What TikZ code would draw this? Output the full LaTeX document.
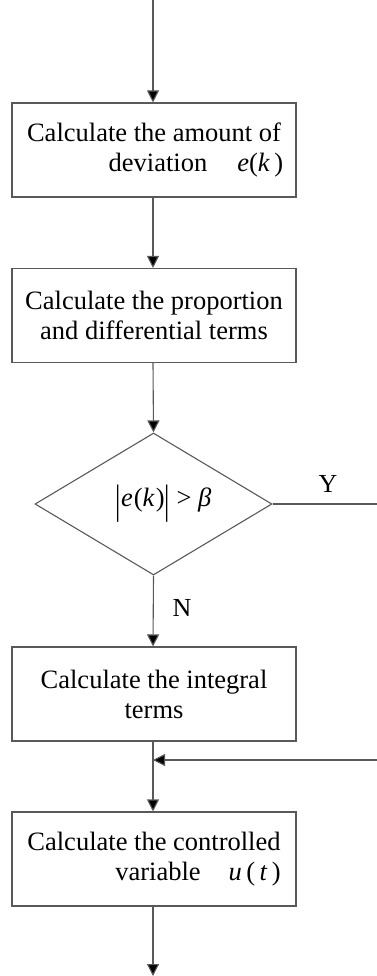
\documentclass[tikz,border=0pt]{standalone}
\usepackage{fontspec}
\usepackage{graphicx}
\setmainfont{Liberation Serif}
\usetikzlibrary{arrows.meta,shapes.geometric}
\newcommand{\tallbar}{\raisebox{-0.28em}{\scalebox{1}[1.55]{|}}}
\begin{document}
\begin{tikzpicture}[x=1pt,y=-1pt,
  line/.style={draw=black!65,line width=1.1pt},
  arr/.style={line,-{Triangle[length=12pt,width=12pt,fill=black]}},
  procbox/.style={line,rectangle,minimum width=284pt,minimum height=94pt,align=center,font=\fontsize{26.5}{30}\selectfont,inner sep=0pt},
  lab/.style={font=\fontsize{26}{30}\selectfont}]
\useasboundingbox (0,0) rectangle (377,976);
\coordinate (top) at (153,0);
\node[procbox] (b1) at (154,150) {Calculate the amount of\\ \hspace*{84pt}deviation\hspace{30pt}\textit{e}(\textit{k}\,)};
\node[procbox] (b2) at (154,315.5) {Calculate the proportion\\ and differential terms};
\node[line,diamond,minimum width=237pt,minimum height=142pt,inner sep=0pt,aspect=1.67] (d) at (153.5,504) {};
\node[font=\fontsize{26.5}{30}\selectfont] (dt) at ([xshift=10pt]d.center) {\tallbar\textit{e}\kern1pt(\textit{k}\kern1pt)\tallbar\ \textgreater\ \textit{β}};
\node[procbox] (b3) at (154,694) {Calculate the integral\\ terms};
\node[procbox] (b4) at (154,859) {Calculate the controlled\\ \hspace*{88pt}variable\hspace{28pt}\textit{u}\,(\,\textit{t}\,)};
\coordinate (yend) at (377,504);
\coordinate (fbstart) at (377,760);
\coordinate (fbend) at (153,760);
\coordinate (bot) at (153,976);
\draw[arr] (top) -- (b1.north -| top);
\draw[arr] (b1.south -| top) -- (b2.north -| top);
\draw[arr] (b2.south -| top) -- (d.north);
\draw[line] (d.east) -- (yend);
\draw[arr] (d.south) -- (b3.north -| top);
\draw[arr] (b3.south -| top) -- (b4.north -| top);
\draw[arr] (fbstart) -- (fbend);
\draw[arr] (b4.south -| top) -- (bot);
\node[lab] (Y) at (328,484) {Y};
\node[lab] (N) at (182,608) {N};
\end{tikzpicture}
\end{document}
